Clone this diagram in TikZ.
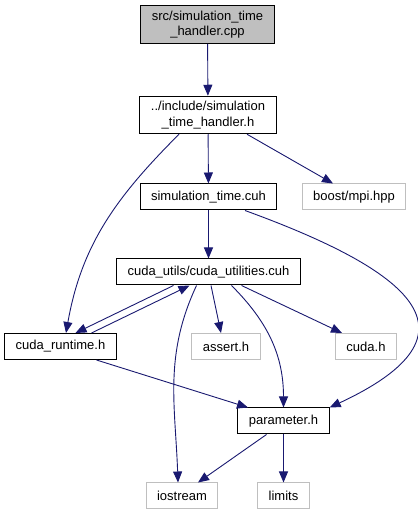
\documentclass[tikz,border=0pt]{standalone}
\usepackage{fontspec}
\setmainfont{Liberation Sans}
\usetikzlibrary{arrows.meta, positioning}
\definecolor{cEdge}{HTML}{191970}
\definecolor{cExt}{HTML}{BFBFBF}
\definecolor{cRoot}{HTML}{BFBFBF}
\tikzset{
  file/.style={
    rectangle, draw=black, line width=1pt, fill=white,
    minimum height=26pt, inner xsep=11pt, inner ysep=5pt,
    font=\fontsize{13}{15.5}\selectfont, align=center
  },
  extfile/.style={file, draw=cExt},
  rootfile/.style={file, fill=cRoot},
  dep/.style={-{Triangle[length=11pt, width=9pt]}, draw=cEdge, line width=0.9pt},
}

\begin{document}
\begin{tikzpicture}[x=1pt, y=1pt]
  \useasboundingbox (0,0) rectangle (418,515);

  \node[rootfile] (root)     at (207.5,490.5) {src/simulation\_time\\\_handler.cpp};
  \node[file]     (inc)      at (208,400)     {../include/simulation\\\_time\_handler.h};
  \node[file]     (simtime)  at (208.5,318)   {simulation\_time.cuh};
  \node[extfile]  (boost)    at (354,318)     {boost/mpi.hpp};
  \node[file]     (cuutil)   at (208.5,243)   {cuda\_utils/cuda\_utilities.cuh};
  \node[file]     (cudart)   at (60.5,168.5)  {cuda\_runtime.h};
  \node[extfile]  (assert)   at (226,168.5)   {assert.h};
  \node[extfile]  (cudah)    at (366,168.5)   {cuda.h};
  \node[file]     (param)    at (283.5,94)    {parameter.h};
  \node[extfile]  (iostream) at (182,19)      {iostream};
  \node[extfile]  (limits)   at (283.5,19)    {limits};

  \draw[dep] (root) -- (inc);
  \draw[dep] (inc)  -- (simtime);
  \draw[dep] ([xshift=39pt]inc.south) -- ([xshift=-21pt]boost.north);
  \draw[dep] ([xshift=-29pt]inc.south) to[out=-135, in=80] ([xshift=5.5pt]cudart.north);
  \draw[dep] (simtime) -- (cuutil);
  \draw[dep] ([xshift=36.5pt]simtime.south) to[out=-20, in=25, looseness=2.1] (param.north east);

  % cuda_utilities <-> cuda_runtime
  \draw[dep] ([xshift=-35pt]cuutil.south) -- ([xshift=15pt]cudart.north);
  \draw[dep] ([xshift=31pt]cudart.north)  -- ([xshift=-19pt]cuutil.south);

  \draw[dep] ([xshift=-12pt]cuutil.south) to[out=-115, in=92] ([xshift=-4pt]iostream.north);
  \draw[dep] ([xshift=2.5pt]cuutil.south) -- ([xshift=-5pt]assert.north);
  \draw[dep] ([xshift=23pt]cuutil.south) to[out=-45, in=90] (param.north);
  \draw[dep] ([xshift=33pt]cuutil.south) -- ([xshift=-24pt]cudah.north);
  \draw[dep] ([xshift=36pt]cudart.south) -- ([xshift=-35.5pt]param.north);
  \draw[dep] ([xshift=-17pt]param.south) -- ([xshift=16pt]iostream.north);
  \draw[dep] (param) -- (limits);
\end{tikzpicture}
\end{document}
